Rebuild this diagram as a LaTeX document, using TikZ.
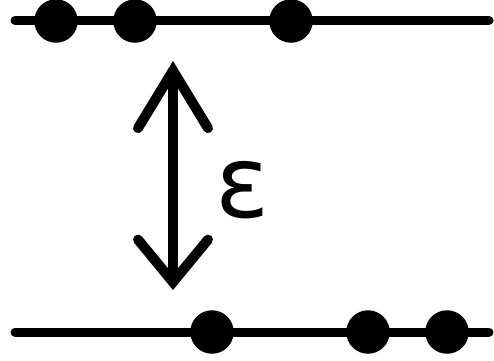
\documentclass[tikz,border=0pt]{standalone}
\usepackage{fontspec}
\newfontfamily\epsfont{DejaVu Sans}
\usetikzlibrary{arrows.meta}

\begin{document}
\begin{tikzpicture}[
  x=0.02cm, y=-0.02cm,
  level/.style={line width=0.18cm, line cap=round},
  dot/.style={circle, fill=black, inner sep=0pt, minimum size=0.87cm},
  gap/.style={line width=0.2cm, line cap=round, line join=round,
    {Straight Barb[length=1.15cm, width=1.4cm, line cap=round]}-{Straight Barb[length=0.85cm, width=1.4cm, line cap=round]}}
]
  \useasboundingbox (0,0) rectangle (494,360);

  % Upper level
  \coordinate (topL) at (15,20.5);
  \coordinate (topR) at (489,20.5);
  \draw[level] (topL) -- (topR);
  \node[dot] (t1) at (56,21) {};
  \node[dot] (t2) at (135,21) {};
  \node[dot] (t3) at (291,21) {};

  % Lower level
  \coordinate (botL) at (15,332);
  \coordinate (botR) at (489,332);
  \draw[level] (botL) -- (botR);
  \node[dot] (b1) at (212,332) {};
  \node[dot] (b2) at (368,332) {};
  \node[dot] (b3) at (447,332) {};

  % Spacing
  \coordinate (up) at (173,61);
  \coordinate (down) at (173,290);
  \draw[gap] (up) -- (down);
  \node[font=\epsfont\fontsize{57}{60}\selectfont, inner sep=0pt] (eps) at (243,190) {ε};
\end{tikzpicture}
\end{document}
